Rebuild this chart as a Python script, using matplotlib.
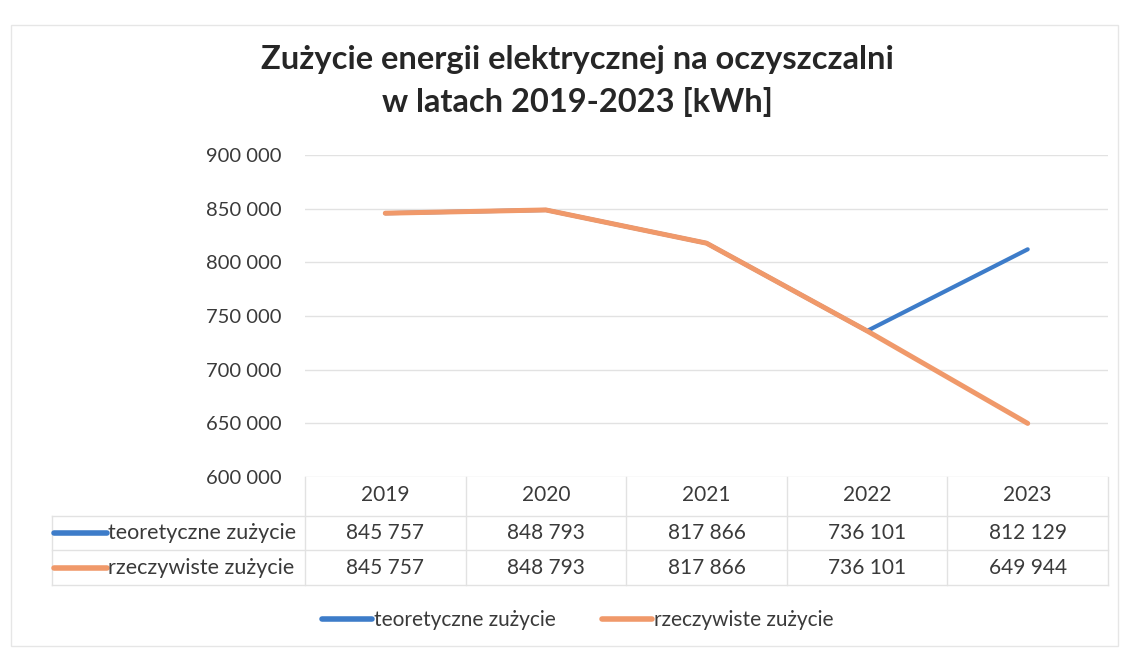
import matplotlib.pyplot as plt
from matplotlib.lines import Line2D
from matplotlib.patches import Rectangle

years = ['2019', '2020', '2021', '2022', '2023']
teoretyczne = [845757, 848793, 817866, 736101, 812129]
rzeczywiste = [845757, 848793, 817866, 736101, 649944]
series_names = ['teoretyczne zużycie', 'rzeczywiste zużycie']
y_ticks = [600000, 650000, 700000, 750000, 800000, 850000, 900000]

title = 'Zużycie energii elektrycznej na oczyszczalni\nw latach 2019-2023 [kWh]'

blue = '#3d7cc9'
orange = '#f0996a'
text_col = '#3a3a3a'
line_col = '#e2e2e2'


def fmt(v):
    return f'{v:,}'.replace(',', ' ')


plt.rcParams['font.family'] = ['Lato', 'DejaVu Sans']

W, H = 1124, 649
fig = plt.figure(figsize=(W / 100, H / 100), dpi=100)

# plot area in pixels: x 305..1108, y 155..477
ax_l, ax_r, ax_t, ax_b = 305, 1108, 155, 477
ax = fig.add_axes([ax_l / W, 1 - ax_b / H, (ax_r - ax_l) / W, (ax_b - ax_t) / H])

x = list(range(len(years)))
ax.plot(x, teoretyczne, color=blue, lw=3.0, solid_capstyle='round', zorder=3)
ax.plot(x, rzeczywiste, color=orange, lw=3.6, solid_capstyle='round', zorder=4)

ax.set_xlim(-0.5, len(years) - 0.5)
ax.set_ylim(y_ticks[0], y_ticks[-1])
ax.set_yticks(y_ticks)
ax.set_yticklabels([fmt(v) for v in y_ticks], fontsize=14.5, color=text_col)
ax.set_xticks([])
ax.tick_params(axis='y', length=0, pad=17)
ax.grid(axis='y', color=line_col, lw=1)
ax.set_axisbelow(True)
for s in ax.spines.values():
    s.set_visible(False)

# data table under the plot
trans = ax.get_xaxis_transform()
col_w = (ax_r - ax_l) / len(years)
x_left = -0.5 - (ax_l - 52) / col_w


def ry(p):
    return (ax_b - p) / (ax_b - ax_t)


rows = [477, 516, 550, 585]
for p in rows[1:]:
    ax.plot([x_left, len(years) - 0.5], [ry(p), ry(p)], transform=trans,
            color=line_col, lw=1, clip_on=False)
for i in range(len(years) + 1):
    ax.plot([i - 0.5, i - 0.5], [ry(rows[0]), ry(rows[-1])], transform=trans,
            color=line_col, lw=1, clip_on=False)
ax.plot([x_left, x_left], [ry(rows[1]), ry(rows[-1])], transform=trans,
        color=line_col, lw=1, clip_on=False)

for i, yr in enumerate(years):
    ax.text(i, ry(495), yr, transform=trans, ha='center', va='center',
            fontsize=15, color=text_col)

key_w = 53 / col_w
for r, (name, vals, c) in enumerate(zip(series_names, [teoretyczne, rzeczywiste], [blue, orange])):
    yc = ry(533 + r * 35)
    ax.plot([x_left + 0.01, x_left + 0.01 + key_w], [yc, yc], transform=trans,
            color=c, lw=4, solid_capstyle='round', clip_on=False)
    ax.text(x_left + 0.01 + key_w + 0.01, yc, name, transform=trans, ha='left',
            va='center', fontsize=15.5, color=text_col)
    for i, v in enumerate(vals):
        ax.text(i, yc, fmt(v), transform=trans, ha='center', va='center',
                fontsize=15, color=text_col)

fig.text(577 / W, 1 - 81 / H, title, ha='center', va='center', fontsize=23.5,
         fontweight='bold', color='#262626', linespacing=1.5)

handles = [Line2D([], [], color=blue, lw=4, solid_capstyle='round'),
           Line2D([], [], color=orange, lw=4, solid_capstyle='round')]
fig.legend(handles, series_names, loc='center', bbox_to_anchor=(578 / W, 1 - 620 / H),
           ncol=2, frameon=False, fontsize=15, handlelength=2.4, handletextpad=0.1,
           columnspacing=2.2, labelcolor=text_col)

fig.add_artist(Rectangle((11 / W, 1 - 646 / H), 1107 / W, 621 / H, transform=fig.transFigure,
                         fill=False, edgecolor='#e6e6e6', lw=1))

fig.savefig('out.png', dpi=100)
